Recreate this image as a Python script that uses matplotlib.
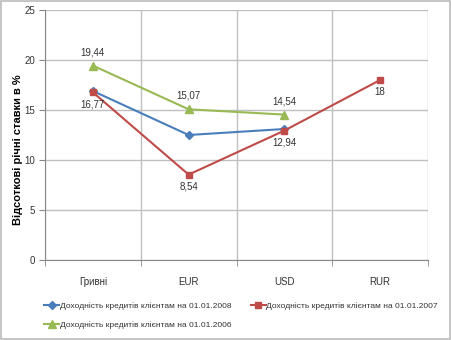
import matplotlib
matplotlib.use("Agg")
import matplotlib.pyplot as plt

categories = ["Гривні", "EUR", "USD", "RUR"]
s2008 = [16.9, 12.5, 13.1]
s2007 = [16.77, 8.54, 12.94, 18]
s2006 = [19.44, 15.07, 14.54]
labels2007 = ["16,77", "8,54", "12,94", "18"]
labels2006 = ["19,44", "15,07", "14,54"]
yticks = [0, 5, 10, 15, 20, 25]

plt.rcParams['font.family'] = ['Liberation Sans', 'DejaVu Sans']

W, H = 451, 340
fig = plt.figure(figsize=(W/100, H/100), dpi=100)
ax = fig.add_axes([45/W, 1-260/H, (428-45)/W, 250/H])

c_blue = "#4A7EBB"
c_red = "#BE4B48"
c_green = "#98B954"
grid_c = "#BFBFBF"
txt_c = "#333333"

l1, = ax.plot(range(len(s2008)), s2008, color=c_blue, lw=1.5, marker="D", ms=4.5, label="Доходність кредитів клієнтам на 01.01.2008")
l2, = ax.plot(range(len(s2007)), s2007, color=c_red, lw=1.5, marker="s", ms=4.5, label="Доходність кредитів клієнтам на 01.01.2007")
l3, = ax.plot(range(len(s2006)), s2006, color=c_green, lw=1.5, marker="^", ms=5.5, label="Доходність кредитів клієнтам на 01.01.2006")

for xi, (v, t) in enumerate(zip(s2006, labels2006)):
    ax.annotate(t, (xi, v), xytext=(0, 6), textcoords="offset points", ha="center", va="bottom", fontsize=7, color=txt_c)
for xi, (v, t) in enumerate(zip(s2007, labels2007)):
    ax.annotate(t, (xi, v), xytext=(0, -5), textcoords="offset points", ha="center", va="top", fontsize=7, color=txt_c)

ax.set_xlim(-0.5, len(categories) - 0.5)
ax.set_ylim(0, 25)
ax.set_yticks(yticks)
ax.set_xticks(range(len(categories)))
ax.set_xticklabels(categories)
ax.set_xticks([i + 0.5 for i in range(-1, len(categories))], minor=True)
ax.tick_params(axis="x", which="major", length=0, pad=12, labelsize=7, colors=txt_c)
ax.tick_params(axis="x", which="minor", length=4, color="#888888")
ax.tick_params(axis="y", length=4, color="#888888", labelsize=7, colors=txt_c, pad=3)
ax.grid(True, axis="y", color=grid_c, lw=1)
ax.grid(True, axis="x", which="minor", color=grid_c, lw=1)
ax.set_axisbelow(True)
for s in ["top", "right"]:
    ax.spines[s].set_visible(False)
for s in ["left", "bottom"]:
    ax.spines[s].set_color("#888888")

fig.text(18/W, 1-150/H, "Відсоткові річні ставки в %", rotation=90, fontsize=8,
         fontweight="bold", ha="center", va="center", color="black")

leg = fig.legend(handles=[l1, l3, l2], ncol=2, loc="upper left", bbox_to_anchor=(44/W, 1-302/H),
                 frameon=False, fontsize=6, handlelength=1.8, handletextpad=0.1,
                 columnspacing=2.3, labelspacing=1.4, borderaxespad=0, borderpad=0)
for t in leg.get_texts():
    t.set_color(txt_c)

fig.patches.append(plt.Rectangle((0.003, 0.004), 0.994, 0.992, transform=fig.transFigure,
                                 fill=False, edgecolor="#BBBBBB", lw=1.2))

fig.savefig("out.png", dpi=100)
